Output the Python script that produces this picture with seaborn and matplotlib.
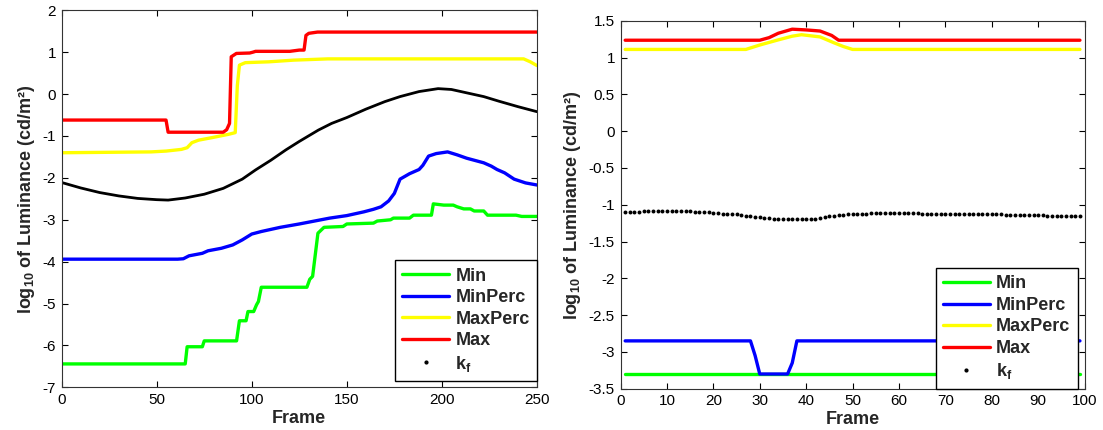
import numpy as np
import pandas as pd
import matplotlib
matplotlib.use('Agg')
import matplotlib.pyplot as plt
from matplotlib.lines import Line2D
from matplotlib.ticker import FuncFormatter
import seaborn as sns

# ---- left panel (250 frames) ----
min_f = [0, 65, 66, 74, 75, 92, 93.5, 97, 98, 101, 102.5, 103.5, 105, 129, 130.5, 132,
         134.8, 138, 148, 150, 164, 166, 173, 174.5, 183, 185, 194.5, 195.5, 201, 206,
         208, 211.5, 215, 217, 222, 224, 239, 242, 250]
min_v = [-6.44, -6.44, -6.03, -6.03, -5.89, -5.89, -5.41, -5.41, -5.19, -5.19, -5.03,
         -4.95, -4.61, -4.61, -4.42, -4.35, -3.32, -3.18, -3.16, -3.10, -3.08, -3.03,
         -3.00, -2.96, -2.96, -2.89, -2.89, -2.62, -2.65, -2.65, -2.69, -2.74, -2.74,
         -2.79, -2.79, -2.89, -2.89, -2.92, -2.92]

minp_f = [0, 61, 64, 67, 74, 77, 84, 90, 95, 100, 105, 115, 125, 141, 150, 159, 164,
          168, 172, 175, 178, 183, 188, 190, 193, 197, 203, 208, 213, 222, 226, 229,
          233, 238, 244, 250]
minp_v = [-3.94, -3.94, -3.93, -3.86, -3.80, -3.74, -3.68, -3.60, -3.48, -3.34, -3.28,
          -3.18, -3.10, -2.96, -2.90, -2.81, -2.75, -2.69, -2.55, -2.37, -2.03, -1.90,
          -1.80, -1.70, -1.48, -1.42, -1.38, -1.45, -1.53, -1.64, -1.72, -1.80, -1.88,
          -2.03, -2.12, -2.17]

maxp_f = [0, 47, 55, 63, 66, 68.5, 72, 79, 87.8, 91.3, 92.4, 93.5, 96.6, 109, 122,
          140, 243, 246.5, 250]
maxp_v = [-1.40, -1.38, -1.36, -1.32, -1.28, -1.16, -1.10, -1.04, -0.96, -0.92, 0.20,
          0.69, 0.75, 0.77, 0.81, 0.84, 0.84, 0.77, 0.68]

max_f = [0, 54.9, 56, 85, 86.8, 88.3, 89.2, 91.9, 98.9, 100.6, 102, 120, 125, 127.5,
         128.5, 130, 134.6, 250]
max_v = [-0.62, -0.62, -0.91, -0.91, -0.85, -0.70, 0.89, 0.97, 0.98, 1.00, 1.02, 1.02,
         1.05, 1.05, 1.40, 1.45, 1.48, 1.48]

kf_f = [0, 10, 20, 30, 40, 50, 56, 65, 75, 85, 95, 102, 110, 118, 125, 135, 142, 150,
        160, 170, 178, 188, 198, 205, 215, 222, 230, 240, 250]
kf_v = [-2.11, -2.24, -2.35, -2.43, -2.49, -2.52, -2.53, -2.48, -2.39, -2.25, -2.03,
        -1.81, -1.58, -1.33, -1.13, -0.86, -0.70, -0.56, -0.36, -0.18, -0.06, 0.06,
        0.13, 0.11, 0.01, -0.06, -0.17, -0.30, -0.42]

# ---- right panel (99 frames) ----
r_min_f = [1, 99]
r_min_v = [-3.30, -3.30]
r_minp_f = [1, 28, 29, 30, 36, 37, 38, 99]
r_minp_v = [-2.85, -2.85, -3.05, -3.30, -3.30, -3.15, -2.85, -2.85]
r_maxp_f = [1, 27, 30, 34, 37, 39, 43, 46, 48, 50, 99]
r_maxp_v = [1.11, 1.11, 1.17, 1.24, 1.29, 1.31, 1.28, 1.20, 1.15, 1.11, 1.11]
r_max_f = [1, 30, 32, 34, 37, 40, 43, 45.5, 47, 99]
r_max_v = [1.235, 1.235, 1.27, 1.33, 1.385, 1.375, 1.36, 1.30, 1.235, 1.235]
r_kf_f = list(range(1, 100))
r_kf_v = [-1.10, -1.10, -1.10, -1.10, -1.09, -1.09, -1.09, -1.09, -1.09, -1.09,
          -1.09, -1.09, -1.09, -1.09, -1.09, -1.10, -1.10, -1.10, -1.10, -1.11,
          -1.11, -1.12, -1.12, -1.13, -1.13, -1.14, -1.15, -1.16, -1.17, -1.17,
          -1.18, -1.18, -1.19, -1.19, -1.20, -1.20, -1.20, -1.20, -1.20, -1.20,
          -1.19, -1.19, -1.18, -1.17, -1.16, -1.15, -1.14, -1.14, -1.13, -1.13,
          -1.12, -1.12, -1.12, -1.11, -1.11, -1.11, -1.11, -1.11, -1.11, -1.11,
          -1.11, -1.11, -1.11, -1.11, -1.12, -1.12, -1.12, -1.12, -1.12, -1.12,
          -1.12, -1.12, -1.12, -1.13, -1.13, -1.13, -1.13, -1.13, -1.13, -1.13,
          -1.13, -1.13, -1.14, -1.14, -1.14, -1.14, -1.14, -1.14, -1.14, -1.14,
          -1.14, -1.15, -1.15, -1.15, -1.15, -1.15, -1.15, -1.15, -1.15]

names = ['Min', 'MinPerc', 'MaxPerc', 'Max']
colors = {'Min': '#00ff00', 'MinPerc': '#0000ff', 'MaxPerc': '#ffff00', 'Max': '#ff0000'}

sns.set_style('white')
plt.rcParams['font.family'] = ['Liberation Sans', 'DejaVu Sans']
plt.rcParams['mathtext.fontset'] = 'custom'
plt.rcParams['mathtext.rm'] = 'Liberation Sans:bold'
plt.rcParams['mathtext.it'] = 'Liberation Sans:bold'
plt.rcParams['mathtext.bf'] = 'Liberation Sans:bold'
plt.rcParams['axes.unicode_minus'] = False


def long_df(series):
    rows = []
    for name, fr, vals in series:
        for f, v in zip(fr, vals):
            rows.append({'series': name, 'frame': f, 'value': v})
    return pd.DataFrame(rows)


def style_axes(ax, xlim, ylim, yticks, xticks):
    ax.set_xlim(*xlim)
    ax.set_ylim(*ylim)
    ax.set_xticks(xticks)
    ax.set_yticks(yticks)
    ax.yaxis.set_major_formatter(FuncFormatter(lambda y, _: f'{y:g}'))
    ax.tick_params(direction='in', top=True, right=True, bottom=True, left=True,
                   length=4, width=0.8, labelsize=11, colors='black', pad=4)
    for sp in ax.spines.values():
        sp.set_visible(True)
        sp.set_color('#333333')
        sp.set_linewidth(0.8)
    ax.set_xlabel('Frame', fontsize=13, fontweight='bold', labelpad=2)
    ax.set_ylabel('log$_{10}$ of Luminance (cd/m²)', fontsize=13, fontweight='bold',
                  labelpad=4)


def add_legend(ax, anchor):
    handles = [Line2D([], [], color=colors[n], lw=2.4) for n in names]
    handles.append(Line2D([], [], color='black', lw=0, marker='.', markersize=4))
    labels = names + ['k$_f$']
    ax.legend(handles, labels, loc='lower right', bbox_to_anchor=anchor,
              prop={'weight': 'bold', 'size': 13}, frameon=True, fancybox=False,
              edgecolor='black', framealpha=1, handlelength=2.6, handletextpad=0.35,
              labelspacing=0.25, borderpad=0.4, borderaxespad=0)


fig = plt.figure(figsize=(11.03, 4.30), dpi=100)
ax1 = fig.add_axes([0.0559, 0.0991, 0.4309, 0.8770])
ax2 = fig.add_axes([0.5626, 0.0960, 0.4207, 0.8558])

left = long_df([('Min', min_f, min_v), ('MinPerc', minp_f, minp_v),
                ('MaxPerc', maxp_f, maxp_v), ('Max', max_f, max_v)])
sns.lineplot(data=left, x='frame', y='value', hue='series', palette=colors,
             estimator=None, sort=False, linewidth=2.4, legend=False, ax=ax1)
sns.lineplot(x=kf_f, y=kf_v, color='black', linewidth=2.0, estimator=None,
             sort=False, ax=ax1)
style_axes(ax1, (0, 250), (-7, 2), range(-7, 3), range(0, 251, 50))
add_legend(ax1, (1.0, 0.017))

right = long_df([('Min', r_min_f, r_min_v), ('MinPerc', r_minp_f, r_minp_v),
                 ('MaxPerc', r_maxp_f, r_maxp_v), ('Max', r_max_f, r_max_v)])
sns.lineplot(data=right, x='frame', y='value', hue='series', palette=colors,
             estimator=None, sort=False, linewidth=2.4, legend=False, ax=ax2)
sns.scatterplot(x=r_kf_f, y=r_kf_v, color='black', s=8, linewidth=0, ax=ax2)
style_axes(ax2, (0, 100), (-3.5, 1.5), np.arange(-3.5, 1.51, 0.5), range(0, 101, 10))
add_legend(ax2, (0.985, 0.0))

fig.savefig('out.png', dpi=100)
